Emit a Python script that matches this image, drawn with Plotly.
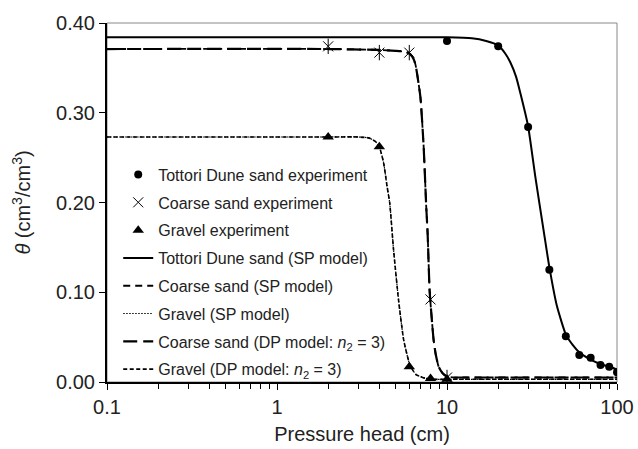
import plotly.graph_objects as go

# Experimental data (pressure head h in cm, water content theta)
tottori_h = [10, 20, 30, 40, 50, 60, 70, 80, 90, 100]
tottori_theta = [0.380, 0.374, 0.284, 0.125, 0.051, 0.030, 0.027, 0.019, 0.017, 0.011]

coarse_h = [2, 4, 6, 8, 10]
coarse_theta = [0.374, 0.367, 0.367, 0.092, 0.005]

gravel_h = [2, 4, 6, 8, 10]
gravel_theta = [0.273, 0.262, 0.017, 0.004, 0.003]

# Model curves
tottori_sp_h = [0.1, 5, 10, 14, 17, 20, 22, 23.6, 25.5, 27, 30, 33, 37, 40, 44.4, 50, 55, 60, 70, 80, 90, 100]
tottori_sp_theta = [0.384, 0.384, 0.384, 0.383, 0.380, 0.375, 0.366, 0.356, 0.340, 0.322, 0.285, 0.230,
                    0.169, 0.128, 0.084, 0.053, 0.041, 0.033, 0.025, 0.020, 0.017, 0.014]

coarse_sp_h = [0.1, 2, 4, 5, 5.7, 6.0, 6.22, 6.5, 6.97, 7.29, 7.55, 7.69, 7.9, 8.1, 8.34, 8.6, 8.93, 9.4, 10, 11, 12, 100]
coarse_sp_theta = [0.371, 0.371, 0.370, 0.369, 0.368, 0.366, 0.363, 0.355, 0.318, 0.262, 0.195, 0.166,
                   0.102, 0.075, 0.047, 0.030, 0.017, 0.010, 0.006, 0.005, 0.005, 0.005]
coarse_dp_h = coarse_sp_h
coarse_dp_theta = coarse_sp_theta

gravel_sp_h = [0.1, 2, 3, 3.46, 3.79, 4.0, 4.24, 4.44, 4.6, 4.85, 5.19, 5.56, 6.0, 6.3, 6.6, 7.0, 7.5, 8.5, 10, 100]
gravel_sp_theta = [0.273, 0.273, 0.273, 0.272, 0.268, 0.262, 0.244, 0.218, 0.200, 0.147, 0.091, 0.047,
                   0.021, 0.013, 0.008, 0.006, 0.004, 0.003, 0.003, 0.003]
gravel_dp_h = gravel_sp_h
gravel_dp_theta = gravel_sp_theta

x_tickvals = [0.1, 1, 10, 100]
x_ticktext = ["0.1", "1", "10", "100"]
x_minor = [m * d for d in (0.1, 1, 10) for m in range(2, 10)]
y_tickvals = [0.0, 0.1, 0.2, 0.3, 0.4]

FONT = "Liberation Sans, Arial, Helvetica, sans-serif"
TXT = "#222"

fig = go.Figure()

# Model lines
fig.add_trace(go.Scatter(x=tottori_sp_h, y=tottori_sp_theta, mode="lines", name="Tottori Dune sand (SP model)",
                         line=dict(color="black", width=2, shape="spline", smoothing=0.5),
                         legendgroup="g4", legendrank=4))
fig.add_trace(go.Scatter(x=coarse_sp_h, y=coarse_sp_theta, mode="lines", name="Coarse sand (SP model)",
                         line=dict(color="black", width=1.8, dash="7px,5px", shape="spline", smoothing=0.5),
                         legendgroup="g5", legendrank=5))
fig.add_trace(go.Scatter(x=gravel_sp_h, y=gravel_sp_theta, mode="lines", name="Gravel (SP model)",
                         line=dict(color="black", width=1.2, dash="1.5px,1.5px", shape="spline", smoothing=0.5),
                         legendgroup="g6", legendrank=6))
fig.add_trace(go.Scatter(x=coarse_dp_h, y=coarse_dp_theta, mode="lines",
                         name="Coarse sand (DP model: <i>n</i><sub>2</sub> = 3)",
                         line=dict(color="black", width=2.2, dash="14px,6px", shape="spline", smoothing=0.5),
                         legendgroup="g7", legendrank=7))
fig.add_trace(go.Scatter(x=gravel_dp_h, y=gravel_dp_theta, mode="lines",
                         name="Gravel (DP model: <i>n</i><sub>2</sub> = 3)",
                         line=dict(color="black", width=1.6, dash="4px,2.5px", shape="spline", smoothing=0.5),
                         legendgroup="g8", legendrank=8))

# Experimental markers
fig.add_trace(go.Scatter(x=tottori_h, y=tottori_theta, mode="markers", name="Tottori Dune sand experiment",
                         marker=dict(symbol="circle", size=8, color="black"),
                         legendgroup="g1", legendrank=1))
fig.add_trace(go.Scatter(x=coarse_h, y=coarse_theta, mode="markers", name="Coarse sand experiment",
                         marker=dict(symbol="x-thin-open", size=10, color="black", line=dict(width=1, color="black")),
                         legendgroup="g2", legendrank=2))
fig.add_trace(go.Scatter(x=coarse_h, y=coarse_theta, mode="markers", showlegend=False,
                         marker=dict(symbol="line-ns-open", size=11, color="black", line=dict(width=1, color="black")),
                         legendgroup="g2"))
fig.add_trace(go.Scatter(x=gravel_h, y=gravel_theta, mode="markers", name="Gravel experiment",
                         marker=dict(symbol="triangle-up", size=10, color="black"),
                         legendgroup="g3", legendrank=3))

fig.update_layout(
    width=638, height=449,
    margin=dict(l=107, r=21, t=23, b=67, autoexpand=False),
    paper_bgcolor="white", plot_bgcolor="white",
    font=dict(family=FONT, size=20, color=TXT),
    showlegend=True,
    legend=dict(x=0.022, y=0.625, xanchor="left", yanchor="top",
                font=dict(size=16, family=FONT, color=TXT),
                bgcolor="rgba(0,0,0,0)", tracegroupgap=4, traceorder="grouped"),
    shapes=[dict(type="rect", xref="paper", yref="paper", x0=0, x1=1, y0=0, y1=1,
                 line=dict(color="#888", width=1), layer="below")],
)

fig.update_xaxes(
    type="log", range=[-1, 2], automargin=False,
    tickmode="array", tickvals=x_tickvals, ticktext=x_ticktext,
    ticks="outside", ticklen=6, tickwidth=1, tickcolor="black",
    showline=True, linecolor="black", linewidth=2,
    showgrid=False, zeroline=False,
    minor=dict(tickmode="array", tickvals=x_minor, ticks="outside", ticklen=5, tickwidth=1,
               tickcolor="black", showgrid=False),
    tickfont=dict(size=20, family=FONT, color=TXT),
    title=dict(text="Pressure head (cm)", font=dict(size=20, family=FONT, color=TXT), standoff=10),
)
fig.update_yaxes(
    range=[0, 0.4], automargin=False,
    tickmode="array", tickvals=y_tickvals, tickformat=".2f",
    ticks="outside", ticklen=6, tickwidth=1, tickcolor="black",
    showline=True, linecolor="black", linewidth=2,
    showgrid=False, zeroline=False,
    tickfont=dict(size=20, family=FONT, color=TXT),
    title=dict(text="<i>θ</i> (cm<sup>3</sup>/cm<sup>3</sup>)", font=dict(size=20, family=FONT, color=TXT),
               standoff=20),
)

fig.write_html("out.html")
